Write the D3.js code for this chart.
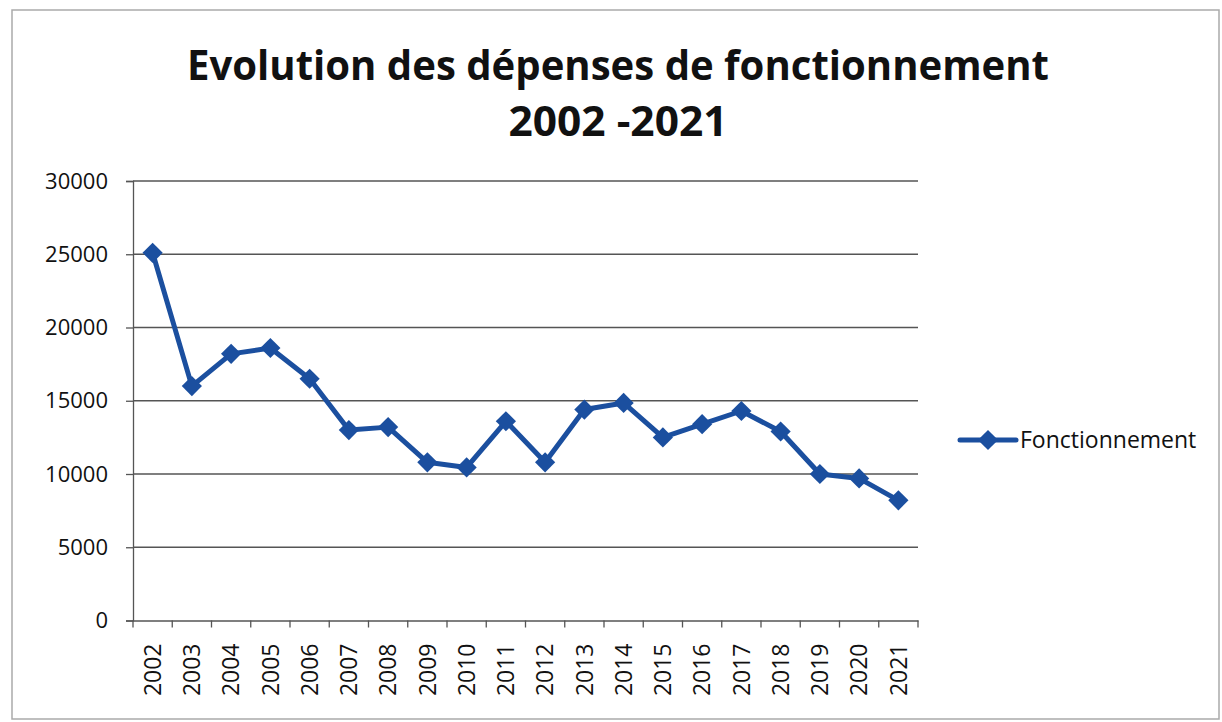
<!DOCTYPE html>
<html>
<head>
<meta charset="utf-8">
<script src="https://cdn.jsdelivr.net/npm/d3@7"></script>
<style>
  body { margin: 0; background: #fff; }
  text { font-family: "Open Sans", "DejaVu Sans", sans-serif; fill: #111; }
</style>
</head>
<body>
<svg id="chart" width="1222" height="722"></svg>
<script>
const years = ["2002", "2003", "2004", "2005", "2006", "2007", "2008", "2009", "2010", "2011",
  "2012", "2013", "2014", "2015", "2016", "2017", "2018", "2019", "2020", "2021"];
const fonctionnement = [25100, 16000, 18200, 18600, 16500, 13000, 13200, 10800, 10450, 13600,
  10800, 14400, 14850, 12500, 13400, 14300, 12900, 10000, 9700, 8200];
const yTicks = [0, 5000, 10000, 15000, 20000, 25000, 30000];
const titleLines = ["Evolution des dépenses de fonctionnement", "2002 -2021"];
const seriesName = "Fonctionnement";

const width = 1222, height = 722;
const plot = { left: 133, right: 918, top: 181, bottom: 620.5 };
const blue = "#1b4f9f";
const gridColor = "#555";

const svg = d3.select("#chart");

// chart frame
svg.append("rect")
  .attr("x", 12).attr("y", 10)
  .attr("width", 1207).attr("height", 709)
  .attr("fill", "none")
  .attr("stroke", "#aaa")
  .attr("stroke-width", 1.5);

const x = d3.scaleBand().domain(years).range([plot.left, plot.right]).padding(0);
const y = d3.scaleLinear().domain([0, 30000]).range([plot.bottom, plot.top]);
const cx = d => x(d) + x.bandwidth() / 2;

// title
svg.append("g").selectAll("text")
  .data(titleLines)
  .join("text")
    .attr("x", 618)
    .attr("y", (d, i) => 80 + i * 56)
    .attr("text-anchor", "middle")
    .attr("font-size", 41)
    .attr("font-weight", "bold")
    .attr("textLength", (d, i) => i === 0 ? 862 : 219)
    .attr("lengthAdjust", "spacingAndGlyphs")
    .text(d => d);

// gridlines
svg.append("g").selectAll("line")
  .data(yTicks.filter(d => d > 0))
  .join("line")
    .attr("x1", plot.left).attr("x2", plot.right)
    .attr("y1", d => y(d)).attr("y2", d => y(d))
    .attr("stroke", gridColor)
    .attr("stroke-width", 1.3);

// y axis
svg.append("g")
  .attr("transform", `translate(${plot.left},0)`)
  .call(d3.axisLeft(y).tickValues(yTicks).tickSize(7).tickPadding(18).tickFormat(d3.format("d")))
  .call(g => g.select(".domain").attr("stroke", gridColor).attr("stroke-width", 1.3))
  .call(g => g.selectAll(".tick line").attr("stroke", gridColor).attr("stroke-width", 1.3))
  .call(g => g.selectAll(".tick text")
      .attr("font-size", 22)
      .attr("font-family", "'Open Sans', sans-serif")
      .attr("fill", "#111"));

// x axis: labels at band centres, tick marks at band edges
const xAxis = svg.append("g")
  .attr("transform", `translate(0,${plot.bottom})`)
  .call(d3.axisBottom(x).tickSize(0).tickPadding(0))
  .call(g => g.select(".domain").attr("stroke", gridColor).attr("stroke-width", 1.3))
  .call(g => g.selectAll(".tick text")
      .attr("font-size", 23)
      .attr("font-family", "'Open Sans', sans-serif")
      .attr("fill", "#111")
      .attr("text-anchor", "end")
      .attr("dy", "0.36em")
      .attr("transform", "translate(0,23) rotate(-90)"));

const edges = years.map(d => x(d)).concat([x(years[years.length - 1]) + x.bandwidth()]);
xAxis.append("g").selectAll("line")
  .data(edges)
  .join("line")
    .attr("x1", d => d).attr("x2", d => d)
    .attr("y1", 0).attr("y2", 7)
    .attr("stroke", gridColor)
    .attr("stroke-width", 1.3);

// series
const data = years.map((yr, i) => ({ year: yr, value: fonctionnement[i] }));
const line = d3.line().x(d => cx(d.year)).y(d => y(d.value));

svg.append("path")
  .datum(data)
  .attr("fill", "none")
  .attr("stroke", blue)
  .attr("stroke-width", 5)
  .attr("stroke-linejoin", "round")
  .attr("d", line);

const diamond = d3.symbol().type(d3.symbolDiamond2).size(260);
svg.append("g").selectAll("path")
  .data(data)
  .join("path")
    .attr("transform", d => `translate(${cx(d.year)},${y(d.value)})`)
    .attr("d", diamond)
    .attr("fill", blue);

// legend
const legend = svg.append("g").attr("transform", "translate(960,440)");
legend.append("line")
  .attr("x1", 0).attr("x2", 56)
  .attr("stroke", blue).attr("stroke-width", 5).attr("stroke-linecap", "round");
legend.append("path")
  .attr("transform", "translate(28,0)")
  .attr("d", diamond)
  .attr("fill", blue);
legend.append("text")
  .attr("x", 60)
  .attr("dy", "0.35em")
  .attr("font-size", 23)
  .text(seriesName);
</script>
</body>
</html>
